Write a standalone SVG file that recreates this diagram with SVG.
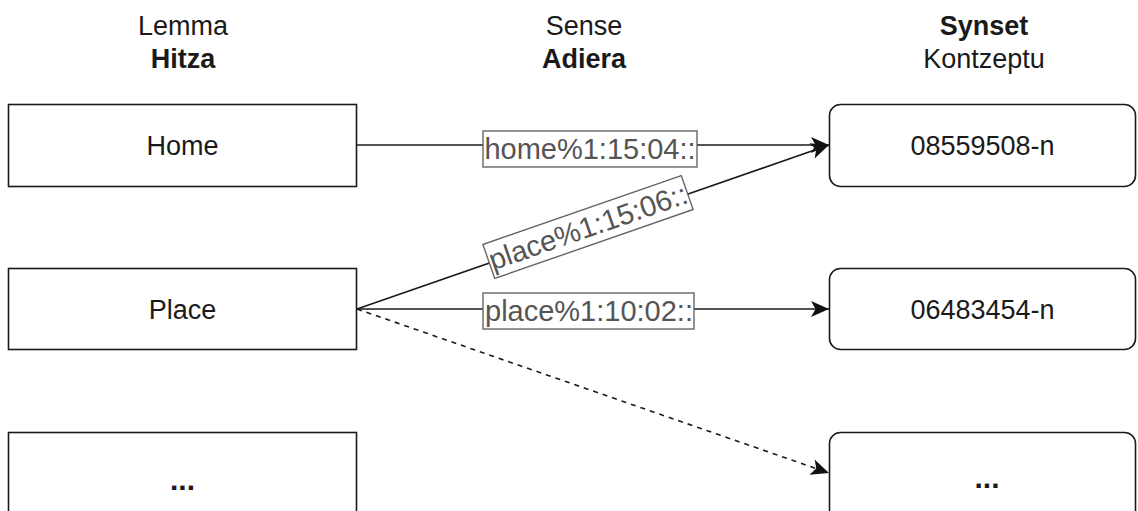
<svg xmlns="http://www.w3.org/2000/svg" width="1138" height="511" viewBox="0 0 1138 511">
  <style>
    .box { fill: #ffffff; stroke: #1a1a1a; stroke-width: 1.6; }
    .txt { font-family: "Liberation Sans", Arial, sans-serif; font-size: 27px; fill: #1a1a1a; text-anchor: middle; }
    .b { font-weight: bold; }
    .dots { font-size: 30px; }
    .edge { fill: none; stroke: #1a1a1a; stroke-width: 1.6; }
    .dash { stroke-dasharray: 5 5; }
    .lblbox { fill: #ffffff; stroke: #666666; stroke-width: 1.4; }
    .lbl { font-family: "Liberation Sans", Arial, sans-serif; font-size: 29px; fill: #555555; text-anchor: middle; }
  </style>
  <defs>
    <marker id="arrow" markerUnits="userSpaceOnUse" markerWidth="22" markerHeight="22" viewBox="-20 -10 22 20" refX="0" refY="0" orient="auto">
      <path d="M0,0 L-18,-8 L-13.5,0 L-18,8 Z" fill="#111111"/>
    </marker>
  </defs>
  <rect width="1138" height="511" fill="#ffffff"/>

  <g id="headers">
    <text class="txt" x="183" y="35">Lemma</text>
    <text class="txt b" x="183" y="68">Hitza</text>
    <text class="txt" x="584" y="35">Sense</text>
    <text class="txt b" x="584" y="68">Adiera</text>
    <text class="txt b" x="984" y="35">Synset</text>
    <text class="txt" x="984" y="68">Kontzeptu</text>
  </g>

  <g id="connectors">
    <line class="edge" x1="357" y1="145" x2="829" y2="145" marker-end="url(#arrow)"/>
    <line class="edge" x1="357" y1="309" x2="829" y2="145" marker-end="url(#arrow)"/>
    <line class="edge" x1="357" y1="309" x2="829" y2="309" marker-end="url(#arrow)"/>
    <line class="edge dash" x1="357" y1="309" x2="829" y2="473" marker-end="url(#arrow)"/>
    <g id="label-home">
      <rect class="lblbox" x="483" y="131" width="214" height="36"/>
      <text class="lbl" x="590" y="159">home%1:15:04::</text>
    </g>
    <g id="label-place1506" transform="translate(588 227) rotate(-19.16)">
      <rect class="lblbox" x="-105" y="-18" width="210" height="36"/>
      <text class="lbl" x="0" y="10">place%1:15:06::</text>
    </g>
    <g id="label-place1002">
      <rect class="lblbox" x="483" y="293" width="211" height="36"/>
      <text class="lbl" x="589" y="321">place%1:10:02::</text>
    </g>
  </g>

  <g id="node-home">
    <rect class="box" x="8.5" y="104.5" width="348" height="82"/>
    <text class="txt" x="182.5" y="155">Home</text>
  </g>
  <g id="node-place">
    <rect class="box" x="8.5" y="268.5" width="348" height="81"/>
    <text class="txt" x="182.5" y="319">Place</text>
  </g>
  <g id="node-lemma-more">
    <rect class="box" x="8.5" y="432.5" width="348" height="90"/>
    <text class="txt b dots" x="182.5" y="490">...</text>
  </g>
  <g id="node-08559508">
    <rect class="box" x="829.5" y="104.5" width="306" height="82" rx="11" ry="11"/>
    <text class="txt" x="982.5" y="155">08559508-n</text>
  </g>
  <g id="node-06483454">
    <rect class="box" x="829.5" y="268.5" width="306" height="81" rx="11" ry="11"/>
    <text class="txt" x="982.5" y="319">06483454-n</text>
  </g>
  <g id="node-synset-more">
    <rect class="box" x="829.5" y="432.5" width="306" height="90" rx="11" ry="11"/>
    <text class="txt b dots" x="987" y="488">...</text>
  </g>
</svg>
